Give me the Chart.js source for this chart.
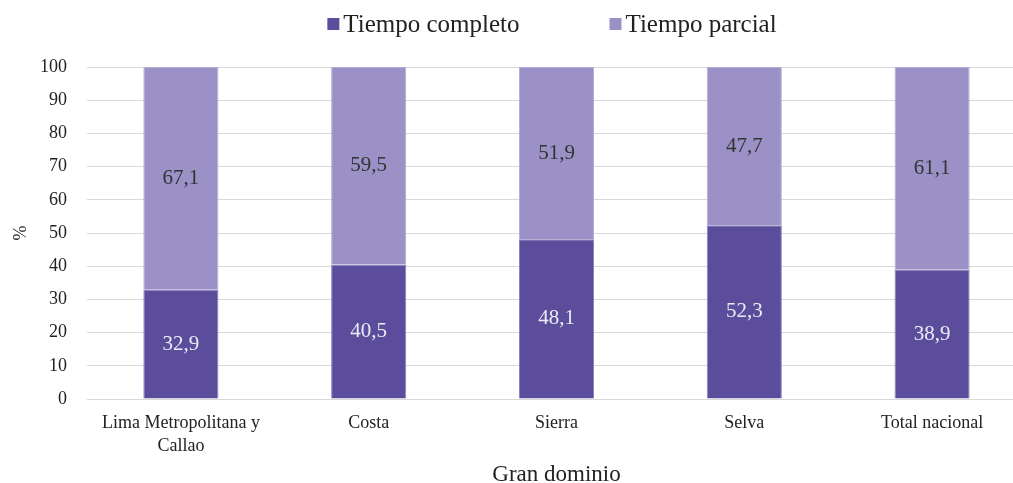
<!DOCTYPE html>
<html>
<head>
<meta charset="utf-8">
<script src="https://cdn.jsdelivr.net/npm/chart.js@4"></script>
<style>
  html, body { margin: 0; padding: 0; background: #fff; overflow: hidden; }
  /* the original is cropped on the right, so the canvas runs past the window edge */
  #wrap { width: 1013px; height: 483px; overflow: hidden; }
</style>
</head>
<body>
<div id="wrap"><canvas id="chart" width="1026" height="483"></canvas></div>
<script>
const categories = [['Lima Metropolitana y', 'Callao'], 'Costa', 'Sierra', 'Selva', 'Total nacional']
const completo = [32.9, 40.5, 48.1, 52.3, 38.9]
const parcial = [67.1, 59.5, 51.9, 47.7, 61.1]

const serif = '"Liberation Serif", "DejaVu Serif", serif'
const darkPurple = '#5b4d9c'
const lightPurple = '#9b91c6'
const textColor = '#222'

// values written inside each bar segment
const barLabels = {
  id: 'barLabels',
  afterDatasetsDraw(chart){
    const ctx = chart.ctx
    ctx.save()
    ctx.font = '21px ' + serif
    ctx.textAlign = 'center'
    ctx.textBaseline = 'middle'
    chart.data.datasets.forEach((ds, i) => {
      const meta = chart.getDatasetMeta(i)
      meta.data.forEach((bar, j) => {
        const mid = (bar.y + bar.base) / 2
        ctx.fillStyle = i === 0 ? '#ecebf5' : '#333333'
        ctx.fillText(ds.data[j].toFixed(1).replace('.', ','), bar.x, mid)
      })
    })
    ctx.restore()
  }
}

// legend row above the plot
const topLegend = {
  id: 'topLegend',
  afterDraw(chart){
    const ctx = chart.ctx
    const box = 12, gap = 4, spacing = 90, y = 24, center = 552
    ctx.save()
    ctx.font = '25px ' + serif
    ctx.textBaseline = 'middle'
    const items = chart.data.datasets.map(ds => ({
      label: ds.label, color: ds.backgroundColor, w: ctx.measureText(ds.label).width
    }))
    const total = items.reduce((s, it) => s + box + gap + it.w, 0) + spacing * (items.length - 1)
    let x = center - total / 2
    items.forEach(it => {
      ctx.fillStyle = it.color
      ctx.fillRect(x, y - box / 2, box, box)
      ctx.fillStyle = textColor
      ctx.fillText(it.label, x + box + gap, y + 1)
      x += box + gap + it.w + spacing
    })
    ctx.restore()
  }
}

new Chart(document.getElementById('chart'), {
  type: 'bar',
  data: {
    labels: categories,
    datasets: [
      {label: 'Tiempo completo', data: completo, backgroundColor: darkPurple, borderColor: '#8a80bd', borderWidth: 1},
      {label: 'Tiempo parcial', data: parcial, backgroundColor: lightPurple, borderColor: '#b3abd5', borderWidth: 1}
    ]
  },
  options: {
    responsive: false,
    animation: false,
    layout: {padding: {top: 67, right: 0, left: 4, bottom: 0}},
    datasets: {bar: {categoryPercentage: 1, barPercentage: 0.4}},
    plugins: {
      legend: {display: false},
      tooltip: {enabled: false}
    },
    scales: {
      x: {
        stacked: true,
        grid: {display: false},
        border: {color: '#d9d9d9'},
        ticks: {color: textColor, font: {family: serif, size: 18, lineHeight: 1.28}, padding: 5, maxRotation: 0},
        title: {display: true, text: 'Gran dominio', color: textColor, font: {family: serif, size: 23, lineHeight: 0.7}, padding: 0},
        afterFit(s){ s.height = 84 }
      },
      y: {
        stacked: true,
        min: 0,
        max: 100,
        ticks: {stepSize: 10, color: textColor, font: {family: serif, size: 18}, padding: 20},
        grid: {color: '#d9d9d9', drawTicks: false},
        border: {display: false},
        title: {display: true, text: '%', color: textColor, font: {family: serif, size: 18}, padding: {top: 6, bottom: 0}},
        afterFit(s){ s.width = 83 }
      }
    }
  },
  plugins: [barLabels, topLegend]
})
</script>
</body>
</html>
